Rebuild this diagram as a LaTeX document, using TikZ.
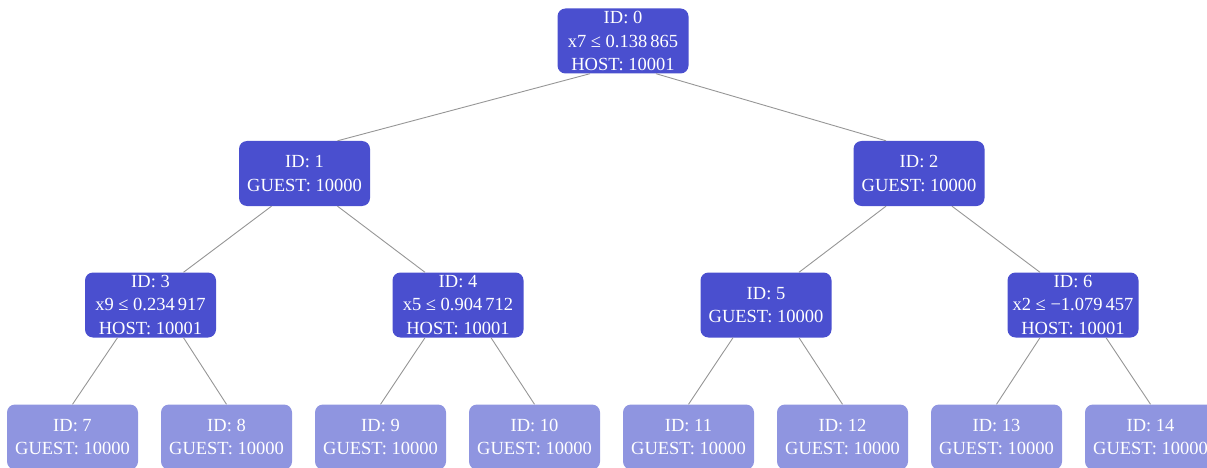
\documentclass[tikz,border=0pt]{standalone}
\usepackage{fontspec}
\setmainfont{Liberation Serif}
\definecolor{splitfill}{RGB}{74,79,207}
\definecolor{leaffill}{RGB}{143,149,224}
\definecolor{edgegray}{RGB}{150,150,150}
\begin{document}
\begin{tikzpicture}[x=1pt,y=-1pt,
  treebox/.style={rectangle, rounded corners=8pt, minimum width=131pt, minimum height=65pt,
    inner sep=0pt, align=center, text=white, font=\fontsize{18.5}{23.5}\selectfont},
  splitbox/.style={treebox, fill=splitfill},
  leafbox/.style={treebox, fill=leaffill},
  link/.style={draw=edgegray, line width=0.9pt}]
\useasboundingbox (0,0) rectangle (1207,468);

% split nodes
\node[splitbox] (n0) at (623,41)    {ID: 0\\x7 ≤ 0.138\,865\\HOST: 10001};
\node[splitbox] (n1) at (304.5,173.5) {ID: 1\\GUEST: 10000};
\node[splitbox] (n2) at (919,173.5)   {ID: 2\\GUEST: 10000};
\node[splitbox] (n3) at (150.5,305) {ID: 3\\x9 ≤ 0.234\,917\\HOST: 10001};
\node[splitbox] (n4) at (458,305)   {ID: 4\\x5 ≤ 0.904\,712\\HOST: 10001};
\node[splitbox] (n5) at (766,305)   {ID: 5\\GUEST: 10000};
\node[splitbox] (n6) at (1073,305)  {ID: 6\\x2 ≤ −1.079\,457\\HOST: 10001};

% leaves
\node[leafbox] (l7)  at (72.5,437)   {ID: 7\\GUEST: 10000};
\node[leafbox] (l8)  at (226.5,437)  {ID: 8\\GUEST: 10000};
\node[leafbox] (l9)  at (380.5,437)  {ID: 9\\GUEST: 10000};
\node[leafbox] (l10) at (534.5,437)  {ID: 10\\GUEST: 10000};
\node[leafbox] (l11) at (688.5,437)  {ID: 11\\GUEST: 10000};
\node[leafbox] (l12) at (842.5,437)  {ID: 12\\GUEST: 10000};
\node[leafbox] (l13) at (996.5,437)  {ID: 13\\GUEST: 10000};
\node[leafbox] (l14) at (1150.5,437) {ID: 14\\GUEST: 10000};

% connectors between split nodes
\draw[link] ([xshift=-33pt]n0.south) -- ([xshift=33pt]n1.north);
\draw[link] ([xshift=33pt]n0.south) -- ([xshift=-33pt]n2.north);
\draw[link] ([xshift=-33pt]n1.south) -- ([xshift=33pt]n3.north);
\draw[link] ([xshift=33pt]n1.south) -- ([xshift=-33pt]n4.north);
\draw[link] ([xshift=-33pt]n2.south) -- ([xshift=33pt]n5.north);
\draw[link] ([xshift=33pt]n2.south) -- ([xshift=-33pt]n6.north);

% connectors to leaves
\draw[link] ([xshift=-33pt]n3.south) -- (l7.north);
\draw[link] ([xshift=33pt]n3.south) -- (l8.north);
\draw[link] ([xshift=-33pt]n4.south) -- (l9.north);
\draw[link] ([xshift=33pt]n4.south) -- (l10.north);
\draw[link] ([xshift=-33pt]n5.south) -- (l11.north);
\draw[link] ([xshift=33pt]n5.south) -- (l12.north);
\draw[link] ([xshift=-33pt]n6.south) -- (l13.north);
\draw[link] ([xshift=33pt]n6.south) -- (l14.north);
\end{tikzpicture}
\end{document}
